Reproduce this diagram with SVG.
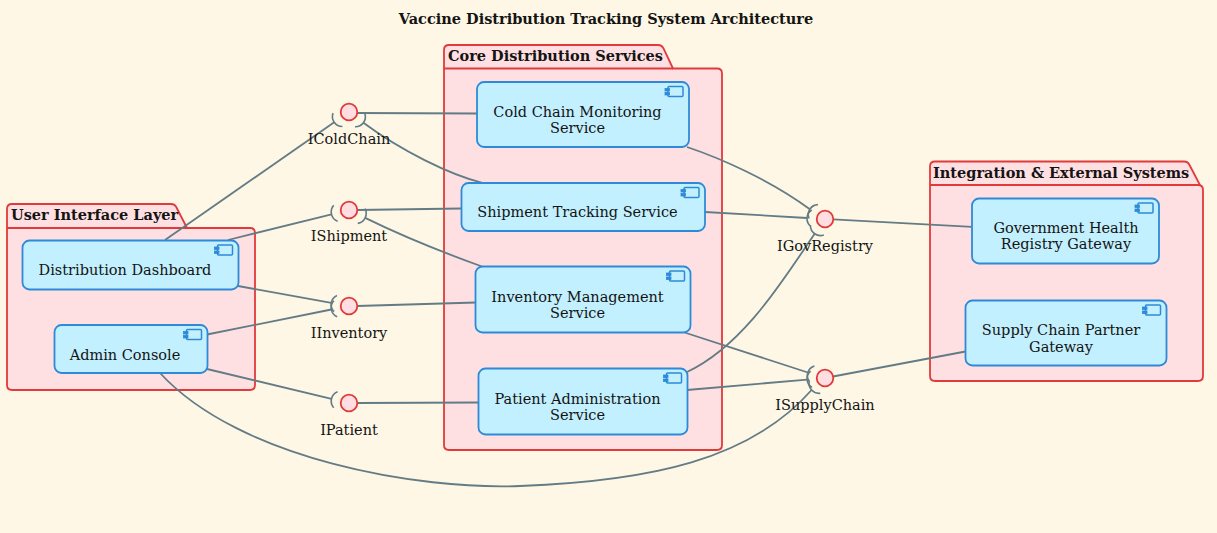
<svg xmlns="http://www.w3.org/2000/svg" xmlns:xlink="http://www.w3.org/1999/xlink" width="1217" height="533" viewBox="0 0 1217 533">
<style>
text{font-family:"DejaVu Serif","Liberation Serif",serif;fill:#141414;}
.title{font-size:14.5px;font-weight:bold;text-anchor:middle;}
.pkgt{font-size:14.5px;font-weight:bold;}
.pkg{fill:#FFE0E2;stroke:#E03A3A;stroke-width:1.8;}
.pkgl{fill:none;stroke:#E03A3A;stroke-width:1.8;}
.comp{fill:#C3F0FF;stroke:#2E8AD8;stroke-width:1.8;}
.ctext{font-size:14.5px;text-anchor:middle;}
.ifc{fill:#FFDDE0;stroke:#E03A3A;stroke-width:1.8;}
.itext{font-size:14.5px;text-anchor:middle;}
.conn{fill:none;stroke:#637B85;stroke-width:1.8;}
.sock{fill:none;stroke:#637B85;stroke-width:1.6;}
.icon{fill:#C3F0FF;stroke:#2E8AD8;stroke-width:1.5;}
.tab{fill:#2E8AD8;stroke:#2E8AD8;stroke-width:0.8;}
</style>
<defs>
<path id="socket" class="sock" d="M13.74,-8.19 A10,10 0 0 1 13.74,8.19"/>
<g id="icon">
<rect class="icon" x="-21" y="4.5" width="15" height="10" rx="1"/>
<rect class="tab" x="-24" y="6.5" width="4.5" height="2.5"/>
<rect class="tab" x="-24" y="10.5" width="4.5" height="2.5"/>
</g>
</defs>
<rect x="0" y="0" width="1217" height="533" fill="#FEF7E5"/>
<text class="title" x="606" y="24">Vaccine Distribution Tracking System Architecture</text>

<g id="pkg-ui">
<path class="pkg" d="M7,209 Q7,204 12,204 H171 Q175,204 176.5,207.5 L187,228 H250 Q255,228 255,233 V385 Q255,390 250,390 H12 Q7,390 7,385 Z"/>
<path class="pkgl" d="M7,228 H187"/>
<text class="pkgt" x="11" y="220">User Interface Layer</text>
</g>
<g id="pkg-core">
<path class="pkg" d="M444,50 Q444,45 449,45 H658 Q662,45 663.5,48.5 L673,68.5 H717 Q722,68.5 722,73.5 V445 Q722,450 717,450 H449 Q444,450 444,445 Z"/>
<path class="pkgl" d="M444,68.5 H673"/>
<text class="pkgt" x="448" y="61">Core Distribution Services</text>
</g>
<g id="pkg-int">
<path class="pkg" d="M930,166.5 Q930,161.5 935,161.5 H1184 Q1188,161.5 1189.5,165 L1200,185 H1198 Q1203,185 1203,190 V376 Q1203,381 1198,381 H935 Q930,381 930,376 Z"/>
<path class="pkgl" d="M930,185 H1200"/>
<text class="pkgt" x="933" y="178">Integration &amp; External Systems</text>
</g>

<g id="connectors">
<path class="conn" d="M357,113 L477,113.5"/>
<path class="conn" d="M357,210 L461,208.5"/>
<path class="conn" d="M357,306 L476,302.5"/>
<path class="conn" d="M357,403 L479,402.5"/>
<path class="conn" d="M833,219.3 L972,226.8"/>
<path class="conn" d="M833,376.5 L965.5,351.5"/>

<path class="conn" d="M165,240 L334.2,122.3"/>
<path class="conn" d="M483,183 C450,175 400,150 363.4,122.8"/>
<path class="conn" d="M228,240 L331.5,214.3"/>
<path class="conn" d="M482,266.5 C450,255 400,235 365.2,217.9"/>
<path class="conn" d="M238,286 L331.3,302.9"/>
<path class="conn" d="M207,334.5 L331.3,309.5"/>
<path class="conn" d="M207,369 L331.5,398.8"/>
<path class="conn" d="M687,147 C720,158 770,180 809.9,209.3"/>
<path class="conn" d="M705,212 L807,218"/>
<path class="conn" d="M687,372 C745,345 786,275 814.7,233.7"/>
<path class="conn" d="M683,332 L807.9,372.5"/>
<path class="conn" d="M687,390 L807.1,379.6"/>
<path class="conn" d="M160,373 C240,460 420,490 520,486 C650,481 750,460 811.6,390"/>

<use xlink:href="#socket" href="#socket" transform="translate(349,112) rotate(145.2)"/>
<use xlink:href="#socket" href="#socket" transform="translate(349,112) rotate(37)"/>
<use xlink:href="#socket" href="#socket" transform="translate(349,210) rotate(166.1)"/>
<use xlink:href="#socket" href="#socket" transform="translate(349,210) rotate(26)"/>
<use xlink:href="#socket" href="#socket" transform="translate(349,306) rotate(190.2)"/>
<use xlink:href="#socket" href="#socket" transform="translate(349,306) rotate(168.6)"/>
<use xlink:href="#socket" href="#socket" transform="translate(349,403) rotate(193.5)"/>
<use xlink:href="#socket" href="#socket" transform="translate(825,219) rotate(212.8)"/>
<use xlink:href="#socket" href="#socket" transform="translate(825,219) rotate(183.3)"/>
<use xlink:href="#socket" href="#socket" transform="translate(825,219) rotate(125)"/>
<use xlink:href="#socket" href="#socket" transform="translate(825,378) rotate(197.9)"/>
<use xlink:href="#socket" href="#socket" transform="translate(825,378) rotate(175)"/>
<use xlink:href="#socket" href="#socket" transform="translate(825,378) rotate(138)"/>
</g>

<g id="if-coldchain"><circle class="ifc" cx="349" cy="112" r="8.3"/><text class="itext" x="349" y="144">IColdChain</text></g>
<g id="if-shipment"><circle class="ifc" cx="349" cy="210" r="8.3"/><text class="itext" x="349" y="241">IShipment</text></g>
<g id="if-inventory"><circle class="ifc" cx="349" cy="306" r="8.3"/><text class="itext" x="349" y="338">IInventory</text></g>
<g id="if-patient"><circle class="ifc" cx="349" cy="403" r="8.3"/><text class="itext" x="349" y="435">IPatient</text></g>
<g id="if-govregistry"><circle class="ifc" cx="825" cy="219" r="8.3"/><text class="itext" x="825" y="251">IGovRegistry</text></g>
<g id="if-supplychain"><circle class="ifc" cx="825" cy="378" r="8.3"/><text class="itext" x="825" y="410">ISupplyChain</text></g>

<g id="c-dashboard">
<rect class="comp" x="22.5" y="240.5" width="216" height="49" rx="7"/>
<use xlink:href="#icon" href="#icon" transform="translate(238.5,240.5)"/>
<text class="ctext" x="125" y="275">Distribution Dashboard</text>
</g>
<g id="c-admin">
<rect class="comp" x="54.5" y="325" width="153" height="48" rx="7"/>
<use xlink:href="#icon" href="#icon" transform="translate(207.5,325)"/>
<text class="ctext" x="125" y="360">Admin Console</text>
</g>
<g id="c-coldchain">
<rect class="comp" x="477" y="82" width="212" height="65" rx="7"/>
<use xlink:href="#icon" href="#icon" transform="translate(689,82)"/>
<text class="ctext" x="577.5" y="116.5">Cold Chain Monitoring</text>
<text class="ctext" x="577.5" y="133">Service</text>
</g>
<g id="c-shipment">
<rect class="comp" x="461.5" y="183" width="243.5" height="48" rx="7"/>
<use xlink:href="#icon" href="#icon" transform="translate(705,183)"/>
<text class="ctext" x="577.5" y="217">Shipment Tracking Service</text>
</g>
<g id="c-inventory">
<rect class="comp" x="475.5" y="266.5" width="215" height="66" rx="7"/>
<use xlink:href="#icon" href="#icon" transform="translate(690.5,266.5)"/>
<text class="ctext" x="577.5" y="301.5">Inventory Management</text>
<text class="ctext" x="577.5" y="318">Service</text>
</g>
<g id="c-patient">
<rect class="comp" x="478.5" y="368.5" width="209" height="66" rx="7"/>
<use xlink:href="#icon" href="#icon" transform="translate(687.5,368.5)"/>
<text class="ctext" x="577.5" y="403.5">Patient Administration</text>
<text class="ctext" x="577.5" y="420">Service</text>
</g>
<g id="c-govgateway">
<rect class="comp" x="972" y="198.5" width="187" height="65" rx="7"/>
<use xlink:href="#icon" href="#icon" transform="translate(1159,198.5)"/>
<text class="ctext" x="1066" y="232.5">Government Health</text>
<text class="ctext" x="1066" y="249">Registry Gateway</text>
</g>
<g id="c-supplygateway">
<rect class="comp" x="965.5" y="300.5" width="201" height="65" rx="7"/>
<use xlink:href="#icon" href="#icon" transform="translate(1166.5,300.5)"/>
<text class="ctext" x="1061" y="335">Supply Chain Partner</text>
<text class="ctext" x="1061" y="351.5">Gateway</text>
</g>
</svg>
